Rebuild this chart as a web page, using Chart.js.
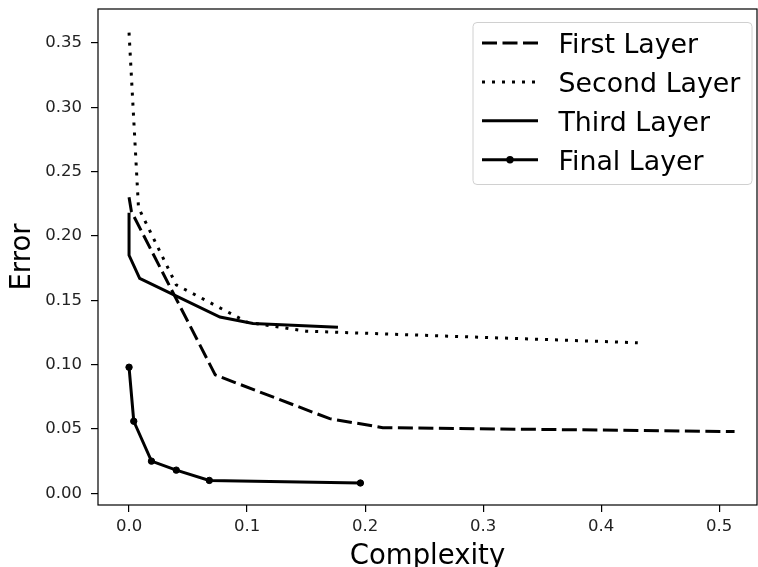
<!DOCTYPE html>
<html>
<head>
<meta charset="utf-8">
<script src="https://cdn.jsdelivr.net/npm/chart.js@4.4.1/dist/chart.umd.min.js"></script>
<style>
  body { margin: 0; background: #fff; }
  canvas { display: block; }
</style>
</head>
<body>
<canvas id="errChart" width="758" height="567"></canvas>
<script>
// values
const firstX = [0.0, 0.002, 0.073, 0.17, 0.215, 0.513];
const firstY = [0.230, 0.219, 0.092, 0.058, 0.051, 0.048];

const secondX = [0.0, 0.008, 0.04, 0.1, 0.15, 0.431];
const secondY = [0.358, 0.222, 0.162, 0.133, 0.126, 0.117];

const thirdX = [0.0, 0.0, 0.009, 0.077, 0.105, 0.177];
const thirdY = [0.218, 0.185, 0.167, 0.137, 0.132, 0.129];

const finalX = [0.0, 0.004, 0.019, 0.04, 0.068, 0.196];
const finalY = [0.098, 0.056, 0.025, 0.018, 0.010, 0.008];

const labels = ['First Layer', 'Second Layer', 'Third Layer', 'Final Layer'];
const font = 'DejaVu Sans';

function pts(xs, ys) {
    return xs.map((x, i) => ({ x: x, y: ys[i] }));
}

// no extra room for overhanging tick labels
function fixPad(scale) {
    scale.paddingTop = 0;
    scale.paddingBottom = 0;
    scale.paddingLeft = 0;
    scale.paddingRight = 0;
}

// frame around the plot + matplotlib style legend box
const frameLegend = {
    id: 'frameLegend',
    afterDraw(chart) {
        const ctx = chart.ctx;
        const a = chart.chartArea;
        ctx.save();
        ctx.strokeStyle = '#000';
        ctx.lineWidth = 1.2;
        ctx.strokeRect(a.left, a.top, a.right - a.left, a.bottom - a.top);

        const bx = a.right - 284, by = a.top + 13.5, bw = 279, bh = 162;
        ctx.beginPath();
        ctx.roundRect(bx, by, bw, bh, 4);
        ctx.fillStyle = 'rgba(255,255,255,0.85)';
        ctx.fill();
        ctx.strokeStyle = '#d0d0d0';
        ctx.lineWidth = 1;
        ctx.stroke();

        chart.data.datasets.forEach((ds, i) => {
            const base = by + 30.5 + i * 38.9;
            const ly = base - 10;
            ctx.strokeStyle = '#000';
            ctx.lineWidth = ds.borderWidth;
            ctx.lineCap = 'butt';
            ctx.setLineDash(ds.borderDash || []);
            ctx.beginPath();
            ctx.moveTo(bx + 9, ly);
            ctx.lineTo(bx + 65, ly);
            ctx.stroke();
            ctx.setLineDash([]);
            if (ds.pointRadius > 0) {
                ctx.beginPath();
                ctx.arc(bx + 37, ly, ds.pointRadius + 0.5, 0, Math.PI * 2);
                ctx.fillStyle = '#000';
                ctx.fill();
            }
            ctx.fillStyle = '#000';
            ctx.font = '26.8px "' + font + '"';
            ctx.textBaseline = 'alphabetic';
            ctx.textAlign = 'left';
            ctx.fillText(ds.label, bx + 85.5, base);
        });
        ctx.restore();
    }
};

const ctx = document.getElementById('errChart').getContext('2d');
new Chart(ctx, {
    type: 'scatter',
    data: {
        datasets: [
            { label: labels[0], data: pts(firstX, firstY), borderDash: [15, 5.5] },
            { label: labels[1], data: pts(secondX, secondY), borderDash: [3, 7] },
            { label: labels[2], data: pts(thirdX, thirdY) },
            { label: labels[3], data: pts(finalX, finalY), pointRadius: 3.2 }
        ].map(ds => Object.assign({
            showLine: true,
            borderColor: '#000',
            backgroundColor: '#000',
            borderWidth: 3,
            pointBorderWidth: 1,
            pointRadius: 0,
            pointHoverRadius: 0,
            tension: 0
        }, ds))
    },
    options: {
        responsive: false,
        animation: false,
        events: [],
        layout: { autoPadding: false, padding: { top: 9, right: 1, left: 0, bottom: 0 } },
        plugins: {
            legend: { display: false },
            tooltip: { enabled: false }
        },
        scales: {
            x: {
                type: 'linear',
                min: -0.0263,
                max: 0.532,
                afterFit(scale) { scale.height = 62; fixPad(scale); },
                border: { display: false },
                grid: { drawOnChartArea: false, drawTicks: true, tickLength: 7, color: '#000', lineWidth: 1.2 },
                ticks: {
                    stepSize: 0.1,
                    includeBounds: false,
                    padding: 5,
                    color: '#222',
                    font: { family: font, size: 16.5 },
                    callback: v => v.toFixed(1)
                },
                title: {
                    display: true,
                    text: 'Complexity',
                    color: '#000',
                    font: { family: font, size: 27.5 },
                    padding: { top: 0, bottom: -6 }
                }
            },
            y: {
                type: 'linear',
                min: -0.0091,
                max: 0.3764,
                afterFit(scale) { scale.width = 98; fixPad(scale); },
                border: { display: false },
                grid: { drawOnChartArea: false, drawTicks: true, tickLength: 7, color: '#000', lineWidth: 1.2 },
                ticks: {
                    stepSize: 0.05,
                    includeBounds: false,
                    padding: 9,
                    color: '#222',
                    font: { family: font, size: 16.5 },
                    callback: v => v.toFixed(2)
                },
                title: {
                    display: true,
                    text: 'Error',
                    color: '#000',
                    font: { family: font, size: 27.5 },
                    padding: { top: 6.5, bottom: 0 }
                }
            }
        }
    },
    plugins: [frameLegend]
});
</script>
</body>
</html>
